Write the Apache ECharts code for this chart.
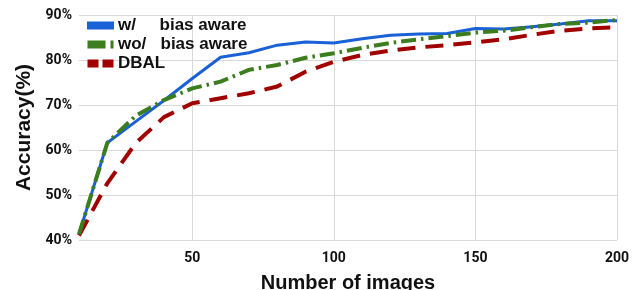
<!DOCTYPE html>
<html>
<head>
<meta charset="UTF-8">
<title>Accuracy</title>
<script src="https://cdn.jsdelivr.net/npm/echarts@6/dist/echarts.min.js"></script>
</head>
<body style="margin:0">
<div id="main" style="width:632px;height:290px;"></div>
<script type="text/javascript">
// number of images
var images = [10, 20, 30, 40, 50, 60, 70, 80, 90, 100, 110, 120, 130, 140, 150, 160, 170, 180, 190, 200];
// accuracy (%)
var withBias = [41.3, 61.6, 66.3, 71.0, 75.9, 80.6, 81.6, 83.3, 84.0, 83.8, 84.7, 85.5, 85.8, 85.9, 87.0, 86.9, 87.4, 88.0, 88.7, 88.7];
var withoutBias = [41.3, 61.6, 67.6, 71.1, 73.7, 75.2, 77.8, 78.9, 80.5, 81.5, 82.7, 83.8, 84.6, 85.3, 86.1, 86.5, 87.3, 88.0, 88.3, 88.9];
var dbal = [41.0, 52.6, 61.5, 67.3, 70.4, 71.5, 72.6, 74.1, 77.4, 79.6, 81.1, 82.1, 82.8, 83.3, 83.9, 84.6, 85.6, 86.5, 87.0, 87.3];
var xTicks = [50, 100, 150, 200];
var names = ['w/     bias aware', 'wo/   bias aware', 'DBAL'];

function pairs(vals) {
    var out = [];
    for (var i = 0; i < images.length; i++) {
        out.push([images[i], vals[i]]);
    }
    return out;
}

var myChart = echarts.init(document.getElementById('main'));

var option = {
    animation: false,
    grid: { left: 79, right: 15, top: 15, bottom: 50, containLabel: false, outerBoundsMode: 'none' },
    legend: {
        left: 82, top: 12, orient: 'vertical',
        itemWidth: 27, itemHeight: 8, itemGap: 2,
        textStyle: { fontFamily: 'Liberation Sans', fontWeight: 'bold', fontSize: 17, color: '#111', padding: [0, 0, 0, -1] },
        data: [
            { name: names[0], icon: 'rect' },
            { name: names[1], icon: 'path://M0,0H18V8H0Z M23,0H26V8H23Z' },
            { name: names[2], icon: 'path://M0,0H11V8H0Z M15,0H26V8H15Z' }
        ]
    },
    xAxis: {
        type: 'value', min: 10, max: 200,
        name: 'Number of images', nameLocation: 'middle', nameGap: 33,
        nameTextStyle: { fontFamily: 'Liberation Sans', fontWeight: 'bold', fontSize: 20, color: '#111' },
        axisLine: { show: false },
        axisTick: { show: false, customValues: xTicks },
        axisLabel: { customValues: xTicks, margin: 11, fontFamily: 'Roboto', fontWeight: 'bold', fontSize: 14, color: '#111' },
        splitLine: { show: true, lineStyle: { color: '#d9d9d9', width: 1 } }
    },
    yAxis: {
        type: 'value', min: 40, max: 90, interval: 10,
        name: 'Accuracy(%)', nameLocation: 'middle', nameGap: 44,
        nameTextStyle: { fontFamily: 'Liberation Sans', fontWeight: 'bold', fontSize: 21, color: '#111' },
        axisLine: { show: false },
        axisTick: { show: false },
        axisLabel: { formatter: '{value}%', margin: 7, fontFamily: 'Roboto', fontWeight: 'bold', fontSize: 14, color: '#111' },
        splitLine: { show: true, lineStyle: { color: '#d9d9d9', width: 1 } }
    },
    series: [{
        name: names[0], type: 'line', symbol: 'none', data: pairs(withBias), z: 3,
        itemStyle: { color: '#1a60d6' },
        lineStyle: { color: '#1a60d6', width: 3 }
    }, {
        name: names[1], type: 'line', symbol: 'none', data: pairs(withoutBias), z: 4,
        itemStyle: { color: '#3b7d1f' },
        lineStyle: { color: '#3b7d1f', width: 4, type: [15, 5, 2.5, 5] }
    }, {
        name: names[2], type: 'line', symbol: 'none', data: pairs(dbal), z: 2,
        itemStyle: { color: '#a00000' },
        lineStyle: { color: '#a00000', width: 4, type: [18, 10] }
    }]
};
myChart.setOption(option);
</script>
</body>
</html>
